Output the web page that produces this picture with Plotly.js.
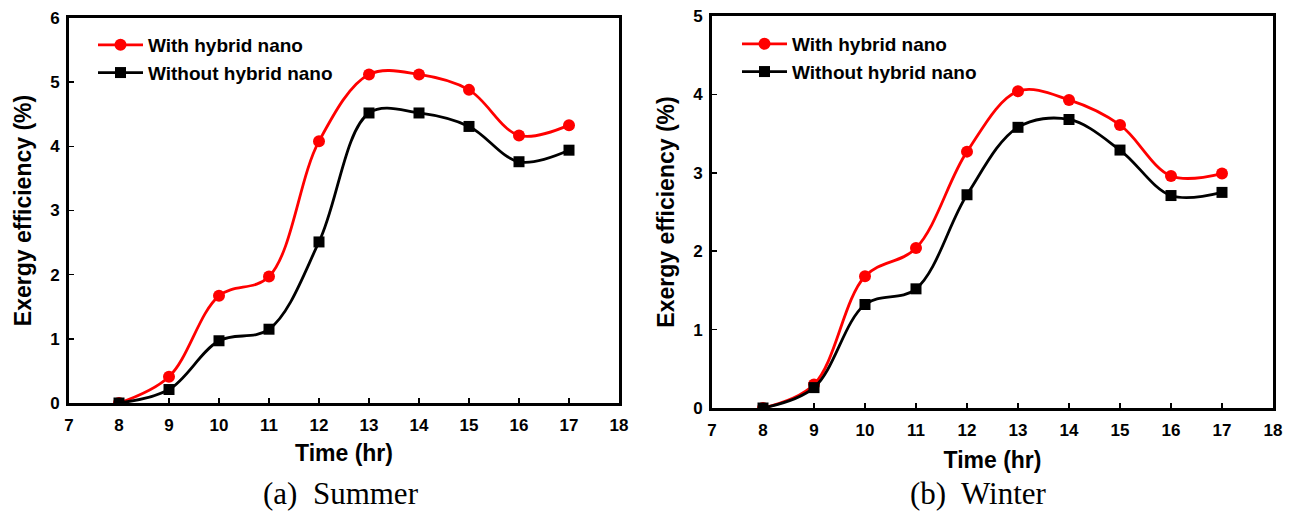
<!DOCTYPE html>
<html>
<head>
<meta charset="utf-8">
<script src="https://cdn.plot.ly/plotly-3.0.1.min.js"></script>
<style>
  html, body { margin: 0; padding: 0; background: #fff; }
  #chart { width: 1289px; height: 513px; }
</style>
</head>
<body>
<div id="chart"></div>
<script>
// Hours of the day
const hours = [8, 9, 10, 11, 12, 13, 14, 15, 16, 17];

// Summer exergy efficiency (%)
const summerWith    = [0, 0.41, 1.67, 1.97, 4.08, 5.12, 5.12, 4.88, 4.17, 4.33];
const summerWithout = [0, 0.21, 0.97, 1.15, 2.51, 4.52, 4.52, 4.31, 3.76, 3.94];

// Winter exergy efficiency (%)
const winterWith    = [0, 0.30, 1.68, 2.04, 3.27, 4.04, 3.93, 3.61, 2.96, 2.99];
const winterWithout = [0, 0.26, 1.32, 1.52, 2.72, 3.58, 3.68, 3.29, 2.71, 2.75];

const seriesNames = ['With hybrid nano', 'Without hybrid nano'];
const xTicks = [7, 8, 9, 10, 11, 12, 13, 14, 15, 16, 17, 18];
const captions = ['(a)  Summer', '(b)  Winter'];

const sans = 'Liberation Sans, Arial, sans-serif';
const W = 1289, H = 513;

function series(x, y, name, color, symbol, size, xa, ya, legend) {
  return {
    type: 'scatter', mode: 'lines+markers', x: x, y: y, name: name,
    xaxis: xa, yaxis: ya, legend: legend,
    line: { color: color, width: 2.8, shape: 'spline', smoothing: 1 },
    marker: { color: color, symbol: symbol, size: size, line: { width: 0 } }
  };
}

const data = [
  series(hours, summerWith, seriesNames[0], '#ff0000', 'circle', 12, 'x', 'y', 'legend'),
  series(hours, summerWithout, seriesNames[1], '#000000', 'square', 11, 'x', 'y', 'legend'),
  series(hours, winterWith, seriesNames[0], '#ff0000', 'circle', 12, 'x2', 'y2', 'legend2'),
  series(hours, winterWithout, seriesNames[1], '#000000', 'square', 11, 'x2', 'y2', 'legend2')
];

function xAxis(domain, anchor, standoff) {
  return {
    domain: domain, anchor: anchor, range: [7, 18],
    tickvals: xTicks, ticks: 'inside', ticklen: 5, tickwidth: 1.5, tickcolor: '#000',
    ticklabelstandoff: 5,
    showline: true, linewidth: 3, linecolor: '#000', mirror: true,
    showgrid: false, zeroline: false,
    tickfont: { family: sans, size: 17, color: '#000', weight: 'bold' },
    title: { text: '<b>Time (hr)</b>', standoff: standoff,
             font: { family: sans, size: 23, color: '#000' } }
  };
}

function yAxis(domain, anchor, maxV) {
  const vals = [];
  for (let v = 0; v <= maxV; v++) vals.push(v);
  return {
    domain: domain, anchor: anchor, range: [0, maxV],
    tickvals: vals, ticks: 'inside', ticklen: 5, tickwidth: 1.5, tickcolor: '#000',
    ticklabelstandoff: 3,
    showline: true, linewidth: 3, linecolor: '#000', mirror: true,
    showgrid: false, zeroline: false,
    tickfont: { family: sans, size: 17, color: '#000', weight: 'bold' },
    title: { text: '<b>Exergy efficiency (%)</b>', standoff: 13,
             font: { family: sans, size: 23, color: '#000' } }
  };
}

function legendBox(px, py) {
  return {
    x: px / W, y: 1 - py / H, xanchor: 'left', yanchor: 'top',
    bgcolor: 'rgba(0,0,0,0)', borderwidth: 0,
    font: { family: sans, size: 19, color: '#000', weight: 'bold' },
    tracegroupgap: 0, itemwidth: 45
  };
}

function caption(text, px) {
  return {
    text: text, x: px / W, y: 1 - 493 / H, xref: 'paper', yref: 'paper',
    showarrow: false, xanchor: 'center', yanchor: 'middle',
    font: { family: 'Liberation Serif, Times New Roman, serif', size: 31, color: '#000' }
  };
}

const layout = {
  width: W, height: H,
  margin: { l: 0, r: 0, t: 0, b: 0 },
  paper_bgcolor: '#fff', plot_bgcolor: '#fff',
  showlegend: true,
  xaxis:  xAxis([69 / W, 619 / W], 'y', 11),
  yaxis:  yAxis([1 - 403 / H, 1 - 18 / H], 'x', 6),
  xaxis2: xAxis([712 / W, 1273 / W], 'y2', 13),
  yaxis2: yAxis([1 - 408 / H, 1 - 16 / H], 'x2', 5),
  legend:  legendBox(93, 26),
  legend2: legendBox(737, 25),
  annotations: [caption(captions[0], 341), caption(captions[1], 978)]
};

Plotly.newPlot('chart', data, layout, { displayModeBar: false, staticPlot: true });
</script>
</body>
</html>
